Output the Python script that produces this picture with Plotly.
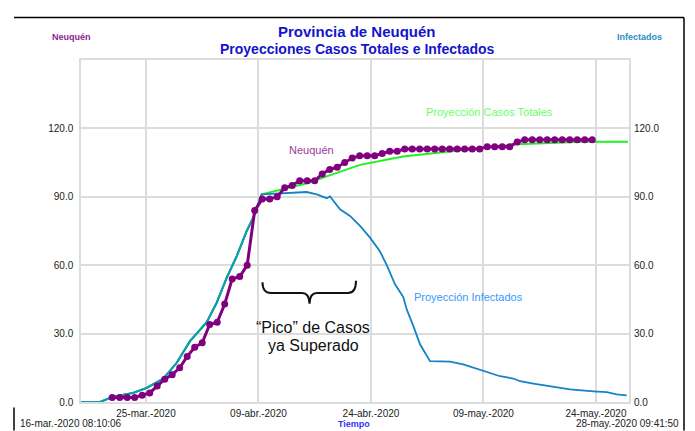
import plotly.graph_objects as go
import pandas as pd

# ---------------- data ----------------
# Neuquén confirmed cases (daily, from 20-mar-2020 to 23-may-2020)
neuquen_start = "2020-03-20 12:00"
neuquen_values = [2, 2, 2, 2, 3, 4, 7, 10, 12, 15,
                  20, 24, 26, 34, 35, 43, 54, 55, 60, 84,
                  89, 89, 90, 94, 95, 97, 97, 97, 100, 102,
                  103, 105, 107, 108, 108, 108, 109, 110, 110, 111,
                  111, 111, 111, 111, 111, 111, 111, 111, 111, 111,
                  112, 112, 112, 112, 114, 115, 115, 115, 115, 115,
                  115, 115, 115, 115, 115]

# shared early part of both projections (infected == total cases)
early_dates = ["2020-03-16 08:10", "2020-03-18 21:00", "2020-03-20 15:00", "2020-03-23 07:30",
               "2020-03-25 02:30", "2020-03-27 07:30", "2020-03-29 02:30", "2020-03-30 21:00",
               "2020-04-02 02:30", "2020-04-03 10:30", "2020-04-04 18:30", "2020-04-06 02:30",
               "2020-04-07 10:30", "2020-04-08 07:30", "2020-04-09 10:30"]
early_values = [0, 0, 2.3, 4.0, 6.2, 10.2, 17.2, 26.7, 35.0, 43.6, 54.5, 64.0, 75.0, 80.9, 91.1]

# Proyección Casos Totales (after the shared part)
total_dates = ["2020-04-12 07:30", "2020-04-15 21:00", "2020-04-18 06:30", "2020-04-22 13:00",
               "2020-04-28 06:30", "2020-05-04 13:00", "2020-05-08 22:30", "2020-05-13 11:30",
               "2020-05-22 06:30", "2020-05-28 06:30"]
total_values = [93.3, 96.3, 99.2, 104.0, 107.7, 109.9, 111.2, 113.1, 114.1, 114.1]

# Proyección Infectados (after the shared part)
infect_dates = ["2020-04-12 07:30", "2020-04-13 15:40", "2020-04-15 10:30", "2020-04-16 18:30",
                "2020-04-18 02:30", "2020-04-18 13:00", "2020-04-19 21:00", "2020-04-21 05:00",
                "2020-04-22 13:00", "2020-04-23 21:00", "2020-04-25 05:00", "2020-04-26 02:30",
                "2020-04-27 05:00", "2020-04-28 07:30", "2020-04-28 18:30", "2020-04-29 15:40",
                "2020-04-30 13:00", "2020-05-01 21:00", "2020-05-04 13:00", "2020-05-06 07:30",
                "2020-05-08 02:30", "2020-05-11 05:00", "2020-05-12 23:30", "2020-05-13 21:00",
                "2020-05-15 15:40", "2020-05-17 21:00", "2020-05-20 13:00", "2020-05-23 15:40",
                "2020-05-25 10:30", "2020-05-26 18:30", "2020-05-28 02:30"]
infect_values = [91.6, 92.1, 92.1, 91.1, 89.4, 90.2, 84.5, 81.6, 77.2, 72.1,
                 66.0, 60.0, 51.6, 46.0, 40.6, 33.3, 25.3, 17.9, 17.7, 16.5,
                 14.6, 11.3, 10.3, 9.1, 8.1, 6.9, 5.5, 4.7, 4.3, 3.3, 2.9]

x_range = ["2020-03-16 08:10:06", "2020-05-28 09:41:50"]
tick_dates = ["2020-03-25", "2020-04-09", "2020-04-24", "2020-05-09", "2020-05-24"]
tick_labels = ["25-mar.-2020", "09-abr.-2020", "24-abr.-2020", "09-may.-2020", "24-may.-2020"]
y_ticks = [0, 30, 60, 90, 120]
y_labels = ["0.0", "30.0", "60.0", "90.0", "120.0"]

# ---------------- layout helpers ----------------
OFF = 8  # page body margin
W, H = 695, 431
L, R, T, B = 81, 629, 59.5, 402.5   # plot area in screen pixels
def PX(x):
    return (x - L) / (R - L)
def PY(y):
    return (B - y) / (B - T)

FONT = "Liberation Sans, Arial, sans-serif"

neuquen_dates = pd.date_range(neuquen_start, periods=len(neuquen_values), freq="D")

fig = go.Figure()
fig.add_trace(go.Scatter(x=early_dates + total_dates, y=early_values + total_values,
                         mode="lines", line=dict(color="#22EE22", width=2), showlegend=False))
fig.add_trace(go.Scatter(x=early_dates + infect_dates, y=early_values + infect_values,
                         mode="lines", line=dict(color="#1682C6", width=1.8), showlegend=False))
fig.add_trace(go.Scatter(x=early_dates, y=early_values,
                         mode="lines", line=dict(color="#0E9CB0", width=2), showlegend=False))
fig.add_trace(go.Scatter(x=neuquen_dates, y=neuquen_values, mode="lines+markers",
                         line=dict(color="#800080", width=3),
                         marker=dict(color="#800080", size=7), showlegend=False))
fig.add_trace(go.Scatter(x=[x_range[0]], y=[0], yaxis="y2", mode="markers",
                         marker=dict(opacity=0), showlegend=False, hoverinfo="skip"))

fig.update_layout(
    width=W, height=H,
    margin=dict(l=L - OFF, r=W - (R - OFF), t=T - OFF, b=H - (B - OFF), pad=0),
    paper_bgcolor="white", plot_bgcolor="white",
    font=dict(family=FONT, size=10, color="#222222"),
    xaxis=dict(type="date", range=x_range, tickvals=tick_dates, ticktext=tick_labels,
               showgrid=True, gridcolor="#DCDCDC", gridwidth=1.5,
               showline=True, linecolor="#DCDCDC", linewidth=1.5, mirror=True,
               ticks="", ticklabelstandoff=1, zeroline=False,
               tickfont=dict(family=FONT, size=10, color="#222222")),
    yaxis=dict(range=[0, 150], tickvals=y_ticks, ticktext=y_labels,
               showgrid=True, gridcolor="#DCDCDC", gridwidth=1.5,
               showline=True, linecolor="#DCDCDC", linewidth=1.5, mirror=True,
               ticks="", ticklabelstandoff=4, zeroline=False,
               tickfont=dict(family=FONT, size=10, color="#222222")),
    yaxis2=dict(range=[0, 150], tickvals=y_ticks, ticktext=y_labels, overlaying="y",
                side="right", showgrid=False, zeroline=False, showline=False,
                ticks="", ticklabelstandoff=4,
                tickfont=dict(family=FONT, size=10, color="#222222")),
)

ann = []
def text(x, y, s, size, color, bold=False, xanchor="center"):
    ann.append(dict(x=PX(x), y=PY(y), xref="paper", yref="paper",
                    text=("<b>%s</b>" % s) if bold else s,
                    showarrow=False, xanchor=xanchor, yanchor="middle",
                    font=dict(family=FONT, size=size, color=color)))

text(357, 31, "Provincia de Neuquén", 15, "#1414CC", bold=True)
text(357, 48, "Proyecciones Casos Totales e Infectados", 14, "#1414CC", bold=True)
text(50, 36, "Neuquén", 9, "#8E1C8E", bold=True, xanchor="left")
text(664, 36, "Infectados", 9, "#2E8CC8", bold=True, xanchor="right")
text(311, 150, "Neuquén", 11, "#9A3A9A")
text(489, 112, "Proyección Casos Totales", 11, "#66FF66")
text(468, 297, "Proyección Infectados", 11, "#3399FF")
text(313, 328, "“Pico” de Casos", 16, "#111111")
text(313, 346, "ya Superado", 16, "#111111")
text(18, 424, "16-mar.-2020 08:10:06", 10, "#222222", xanchor="left")
text(354, 425, "Tiempo", 9, "#3333FF", bold=True)
text(681, 424, "28-may.-2020 09:41:50", 10, "#222222", xanchor="right")
fig.update_layout(annotations=ann)

def P(x, y):
    return "%.4f,%.4f" % (PX(x), PY(y))

brace = ("M " + P(262.5, 282.5) + " Q " + P(262.5, 293.3) + " " + P(271, 293.3) +
         " L " + P(302, 293.3) + " Q " + P(309.3, 293.3) + " " + P(309.5, 304) +
         " Q " + P(309.7, 293.3) + " " + P(317, 293.3) +
         " L " + P(348, 293.3) + " Q " + P(356, 293.3) + " " + P(356, 281))
shapes = [
    dict(type="path", xref="paper", yref="paper", path=brace, line=dict(color="#111111", width=2)),
    dict(type="line", xref="paper", yref="paper", x0=PX(14), x1=PX(684), y0=PY(17), y1=PY(17),
         line=dict(color="#000000", width=1.5)),
    dict(type="line", xref="paper", yref="paper", x0=PX(684), x1=PX(684), y0=PY(17), y1=PY(431),
         line=dict(color="#000000", width=1.5)),
    dict(type="line", xref="paper", yref="paper", x0=PX(14), x1=PX(14), y0=PY(408), y1=PY(431),
         line=dict(color="#000000", width=1.5)),
]
fig.update_layout(shapes=shapes)

fig.write_html("out.html")
